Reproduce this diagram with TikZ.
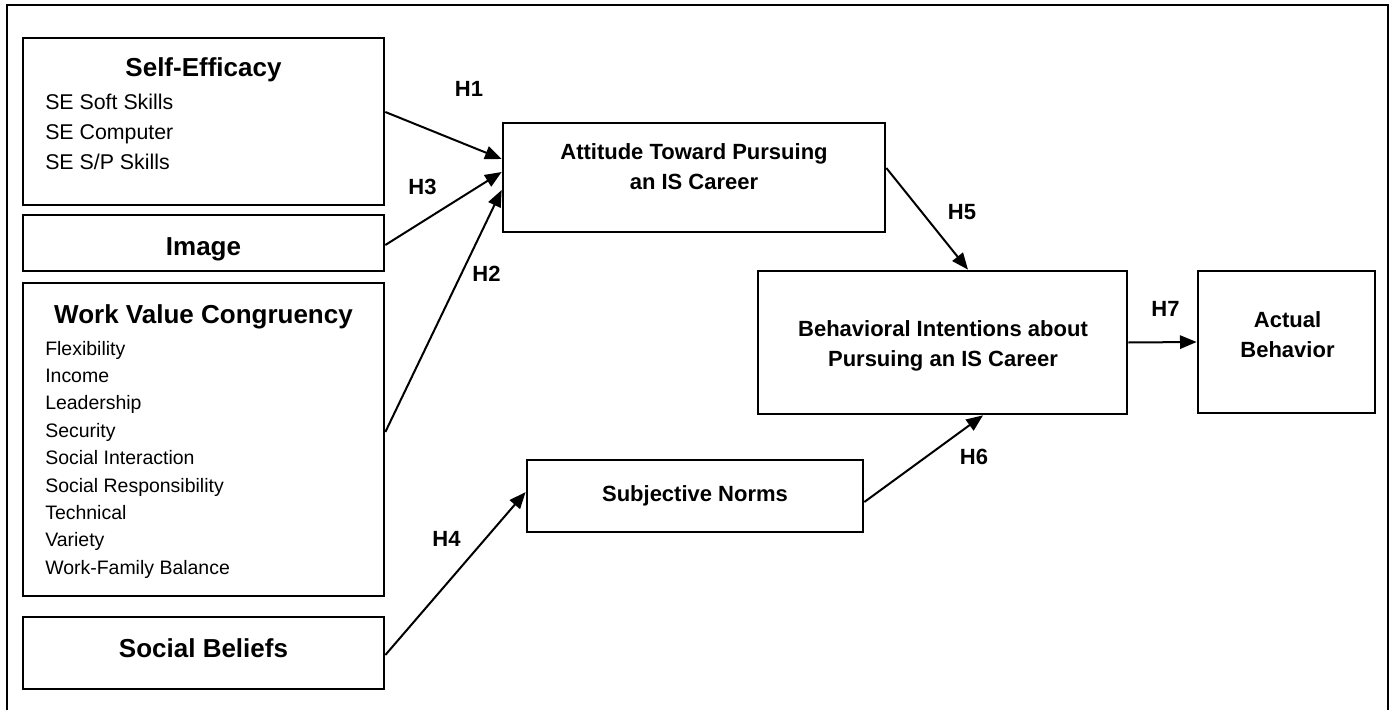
\documentclass[tikz,border=0pt]{standalone}
\usepackage{fontspec}
\setmainfont{Liberation Sans}
\usetikzlibrary{arrows.meta,calc}

\tikzset{
  box/.style={draw, line width=2pt, inner sep=0pt},
  title/.style={font=\fontsize{19.5}{24}\selectfont\bfseries, inner sep=0pt},
  seitem/.style={font=\fontsize{16}{20}\selectfont, inner sep=0pt, anchor=base west},
  wvitem/.style={font=\fontsize{14.6}{18}\selectfont, inner sep=0pt, anchor=base west},
  boxtext/.style={font=\fontsize{16.5}{22.5}\selectfont\bfseries, align=center, inner sep=0pt},
  hyp/.style={font=\fontsize{16.5}{20}\selectfont\bfseries, inner sep=0pt},
  link/.style={-{Triangle[length=12.5pt,width=10pt]}, line width=1.5pt}
}

\begin{document}
\begin{tikzpicture}[x=0.75pt,y=-0.75pt]
\useasboundingbox (0,0) rectangle (1390,710);
% outer frame
\draw[line width=1.6pt] (7,712) -- (7,5) -- (1388,5) -- (1388,712);

% Self-Efficacy
\node[box, minimum width=270.75pt, minimum height=125.25pt] (se) at (203.5,121.5) {};
\node[title, anchor=base] (se-t) at (203.5,77) {Self-Efficacy};
\foreach \t [count=\i] in {SE Soft Skills, SE Computer, SE S/P Skills}
  \node[seitem] (se\i) at (45,80+30*\i) {\t};

% Image
\node[box, minimum width=270.75pt, minimum height=42pt] (img) at (203.5,243) {};
\node[title, anchor=base] (img-t) at (203.5,255) {Image};

% Work Value Congruency
\node[box, minimum width=270.75pt, minimum height=234.75pt] (wvc) at (203.5,439.5) {};
\node[title, anchor=base] (wvc-t) at (203.5,323) {Work Value Congruency};
\foreach \t [count=\i] in {Flexibility, Income, Leadership, Security, Social Interaction,
    Social Responsibility, Technical, Variety, Work-Family Balance}
  \node[wvitem] (wv\i) at (45,327.6+27.4*\i) {\t};

% Social Beliefs
\node[box, minimum width=270.75pt, minimum height=54pt] (sb) at (203.5,653) {};
\node[title, anchor=base] (sb-t) at (203.5,657) {Social Beliefs};

% middle and right boxes
\node[box, minimum width=286.5pt, minimum height=81.75pt] (att) at (694,177.5) {};
\node[boxtext] (att-t) at (694,166.5) {Attitude Toward Pursuing\\an IS Career};

\node[box, minimum width=252pt, minimum height=54pt] (sn) at (695,496) {};
\node[boxtext] (sn-t) at (695,496) {Subjective Norms};

\node[box, minimum width=276.75pt, minimum height=107.25pt] (bi) at (942.5,342.5) {};
\node[boxtext] (bi-t) at (943,346.3) {Behavioral Intentions about\\Pursuing an IS Career};

\node[box, minimum width=132.75pt, minimum height=106.5pt] (ab) at (1286.5,342) {};
\node[boxtext] (ab-t) at (1287.5,334.5) {Actual\\Behavior};

% hypotheses
\draw[link] ($(se.east)+(0,-9.5)$) -- ($(att.west)+(0,-18.5)$);
\draw[link] ($(img.east)+(0,2)$) -- ($(att.west)+(0,-5.5)$);
\draw[link] ($(wvc.east)+(0,-7.5)$) -- ($(att.west)+(0,12.5)$);
\draw[link] ($(sb.east)+(0,2)$) -- ($(sn.west)+(0,-4)$);
\draw[link] ($(att.east)+(0,-9.5)$) -- ($(bi.north)+(25.5,0)$);
\draw[link] ($(sn.east)+(0,6)$) -- ($(bi.south)+(40.5,0)$);
\draw[link] (bi.east) -- (ab.west);

\node[hyp] (h1) at (469,88.5) {H1};
\node[hyp] (h3) at (422.5,186.5) {H3};
\node[hyp] (h2) at (486.5,273.5) {H2};
\node[hyp] (h4) at (446.5,539) {H4};
\node[hyp] (h5) at (962,212) {H5};
\node[hyp] (h6) at (974,456.5) {H6};
\node[hyp] (h7) at (1165.5,309) {H7};
\end{tikzpicture}
\end{document}
